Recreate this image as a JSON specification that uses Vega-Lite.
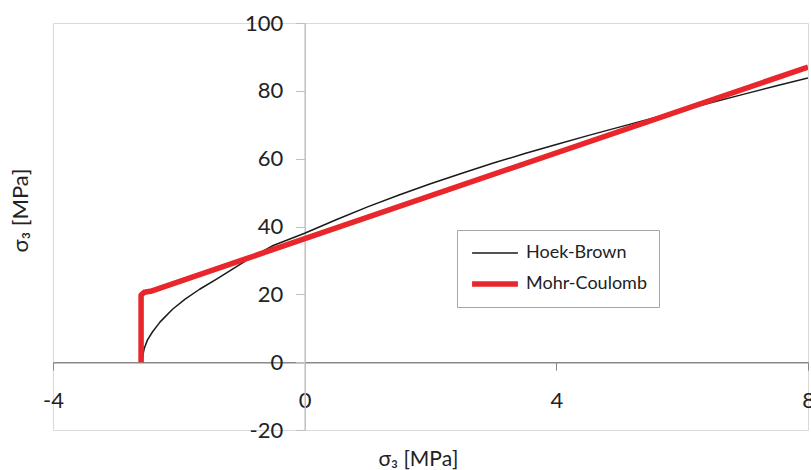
{
  "$schema": "https://vega.github.io/schema/vega-lite/v6.json",
  "width": 755,
  "height": 407,
  "autosize": {"type": "none"},
  "padding": {"left": 53, "top": 23, "right": 3, "bottom": 40},
  "background": "white",
  "config": {
    "font": "Lato",
    "view": {"stroke": "#d9d9d9", "strokeWidth": 1}
  },
  "data": {
    "values": [
      {"series": "Hoek-Brown", "i": 0, "x": -2.58, "y": 0},
      {"series": "Hoek-Brown", "i": 1, "x": -2.57, "y": 2.2},
      {"series": "Hoek-Brown", "i": 2, "x": -2.55, "y": 4.0},
      {"series": "Hoek-Brown", "i": 3, "x": -2.5, "y": 6.5},
      {"series": "Hoek-Brown", "i": 4, "x": -2.42, "y": 8.9},
      {"series": "Hoek-Brown", "i": 5, "x": -2.3, "y": 11.8},
      {"series": "Hoek-Brown", "i": 6, "x": -2.1, "y": 15.6},
      {"series": "Hoek-Brown", "i": 7, "x": -1.9, "y": 18.6},
      {"series": "Hoek-Brown", "i": 8, "x": -1.67, "y": 21.5},
      {"series": "Hoek-Brown", "i": 9, "x": -1.4, "y": 24.5},
      {"series": "Hoek-Brown", "i": 10, "x": -1.14, "y": 27.5},
      {"series": "Hoek-Brown", "i": 11, "x": -0.9, "y": 30.3},
      {"series": "Hoek-Brown", "i": 12, "x": -0.5, "y": 34.4},
      {"series": "Hoek-Brown", "i": 13, "x": 0, "y": 38.0},
      {"series": "Hoek-Brown", "i": 14, "x": 0.5, "y": 42.0},
      {"series": "Hoek-Brown", "i": 15, "x": 1, "y": 45.8},
      {"series": "Hoek-Brown", "i": 16, "x": 1.5, "y": 49.3},
      {"series": "Hoek-Brown", "i": 17, "x": 2, "y": 52.6},
      {"series": "Hoek-Brown", "i": 18, "x": 2.5, "y": 55.7},
      {"series": "Hoek-Brown", "i": 19, "x": 3, "y": 58.7},
      {"series": "Hoek-Brown", "i": 20, "x": 3.5, "y": 61.5},
      {"series": "Hoek-Brown", "i": 21, "x": 4, "y": 64.2},
      {"series": "Hoek-Brown", "i": 22, "x": 4.5, "y": 66.8},
      {"series": "Hoek-Brown", "i": 23, "x": 5, "y": 69.3},
      {"series": "Hoek-Brown", "i": 24, "x": 5.5, "y": 71.8},
      {"series": "Hoek-Brown", "i": 25, "x": 6, "y": 74.3},
      {"series": "Hoek-Brown", "i": 26, "x": 6.5, "y": 76.7},
      {"series": "Hoek-Brown", "i": 27, "x": 7, "y": 79.1},
      {"series": "Hoek-Brown", "i": 28, "x": 7.5, "y": 81.5},
      {"series": "Hoek-Brown", "i": 29, "x": 8, "y": 83.8},
      {"series": "Mohr-Coulomb", "i": 0, "x": -2.6, "y": 0},
      {"series": "Mohr-Coulomb", "i": 1, "x": -2.6, "y": 19.8},
      {"series": "Mohr-Coulomb", "i": 2, "x": -2.55, "y": 20.6},
      {"series": "Mohr-Coulomb", "i": 3, "x": -2.45, "y": 20.9},
      {"series": "Mohr-Coulomb", "i": 4, "x": 8, "y": 87.0}
    ]
  },
  "mark": {"type": "line", "strokeCap": "butt", "strokeJoin": "round", "clip": true},
  "encoding": {
    "x": {
      "field": "x",
      "type": "quantitative",
      "scale": {"domain": [-4, 8], "nice": false, "zero": false},
      "axis": {
        "values": [-4, 0, 4, 8],
        "labelExpr": "replace(datum.label, '−', '-')",
        "grid": false,
        "offset": -67.8,
        "domainColor": "#888888",
        "domainWidth": 1.5,
        "tickColor": "#888888",
        "tickSize": 8,
        "labelFontSize": 22,
        "labelColor": "#222222",
        "labelPadding": 20,
        "labelFlush": false,
        "title": "σ₃  [MPa]",
        "titleFontSize": 21,
        "titleFontWeight": "normal",
        "titleColor": "#222222",
        "titleX": 365,
        "titleY": 97,
        "titleAnchor": null,
        "titleAlign": "center",
        "titleBaseline": "middle"
      }
    },
    "y": {
      "field": "y",
      "type": "quantitative",
      "scale": {"domain": [-20, 100], "nice": false, "zero": false},
      "axis": {
        "values": [-20, 0, 20, 40, 60, 80, 100],
        "labelExpr": "replace(datum.label, '−', '-')",
        "grid": false,
        "offset": -251.7,
        "domainColor": "#bfbfbf",
        "domainWidth": 1.5,
        "tickColor": "#bfbfbf",
        "tickSize": 9,
        "labelFontSize": 22,
        "labelColor": "#222222",
        "labelPadding": 13,
        "labelFlush": false,
        "title": "σ₃ [MPa]",
        "titleFontSize": 22,
        "titleFontWeight": "normal",
        "titleColor": "#222222",
        "titleX": -284,
        "titleY": 187,
        "titleAngle": 270,
        "titleAlign": "center",
        "titleBaseline": "middle"
      }
    },
    "color": {
      "field": "series",
      "type": "nominal",
      "scale": {"domain": ["Hoek-Brown", "Mohr-Coulomb"], "range": ["#1a1a1a", "#e8262b"]},
      "legend": {
        "title": null,
        "orient": "none",
        "legendX": 404,
        "legendY": 207,
        "direction": "vertical",
        "symbolType": "stroke",
        "symbolSize": 2100,
        "clipHeight": 22,
        "labelFontSize": 18,
        "labelColor": "#222222",
        "labelOffset": 5,
        "strokeColor": "#a6a6a6",
        "fillColor": "white",
        "padding": 12,
        "rowPadding": 9,
        "labelLimit": 300
      }
    },
    "strokeWidth": {
      "field": "series",
      "type": "nominal",
      "scale": {"domain": ["Hoek-Brown", "Mohr-Coulomb"], "range": [1.5, 5.5]},
      "legend": {
        "title": null,
        "orient": "none",
        "legendX": 404,
        "legendY": 207,
        "direction": "vertical",
        "symbolType": "stroke",
        "symbolSize": 2100,
        "clipHeight": 22,
        "labelFontSize": 18,
        "labelColor": "#222222",
        "labelOffset": 5,
        "strokeColor": "#a6a6a6",
        "fillColor": "white",
        "padding": 12,
        "rowPadding": 9,
        "labelLimit": 300
      }
    },
    "order": {"field": "i", "type": "quantitative"}
  }
}
